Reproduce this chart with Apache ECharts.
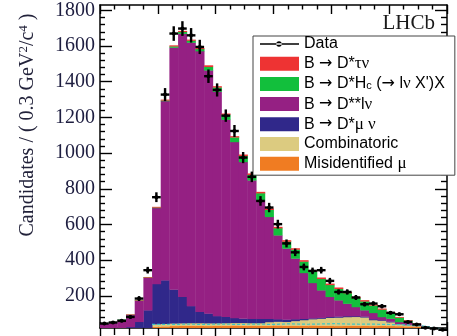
<!DOCTYPE html>
<html>
<head>
<meta charset="utf-8">
<script src="https://cdn.jsdelivr.net/npm/echarts@6/dist/echarts.min.js"></script>
<style>
  html, body { margin: 0; padding: 0; background: #fff; }
  #chart { width: 457px; height: 336px; }
</style>
</head>
<body>
<div id="chart"></div>
<script>
// Missing-mass-squared distribution: 40 bins of 0.3 GeV^2/c^4 from -2 to 10.
const BIN_LO = -2;
const BIN_WIDTH = 0.3;

// Observed candidates per bin
const dataCounts = [45, 51, 60, 82, 185, 344, 753, 1328, 1670, 1698,
  1660, 1595, 1431, 1354, 1210, 1124, 975, 867, 732, 695,
  602, 494, 444, 362, 340, 344, 284, 222, 222, 191,
  153, 157, 142, 105, 97, 54, 40, 22, 17, 10];

// Fit components, listed from the bottom of the stack upwards
const misIdMu = [0, 0, 0, 0, 0, 0, 28, 30, 32, 33,
  34, 33, 32, 33, 34, 35, 34, 33, 33, 34,
  35, 34, 33, 34, 35, 34, 33, 32, 33, 34,
  33, 32, 33, 32, 31, 30, 28, 20, 12, 8];
const combinatoric = [0, 0, 0, 0, 0, 0, 14, 14, 14, 14,
  14, 15, 15, 14, 14, 14, 15, 15, 15, 20,
  21, 21, 27, 31, 35, 39, 45, 47, 49, 49,
  47, 33, 29, 21, 11, 7, 4, 3, 3, 2];
const dstarMuNu = [12, 14, 18, 26, 55, 120, 225, 244, 190, 148,
  95, 64, 55, 40, 35, 28, 24, 24, 24, 18,
  14, 13, 10, 7, 5, 5, 5, 6, 5, 4,
  5, 5, 3, 4, 2, 3, 1, 1, 1, 1];
const dstarstarLNu = [32, 39, 49, 68, 118, 182, 426, 1004, 1356, 1475,
  1477, 1460, 1362, 1258, 1105, 986, 878, 776, 664, 571,
  470, 398, 340, 257, 198, 154, 112, 91, 70, 51,
  35, 35, 17, 16, 10, 10, 7, 1, 0, 0];
const dstarHc = [1, 1, 1, 1, 2, 2, 3, 4, 7, 10,
  11, 12, 20, 24, 28, 26, 34, 31, 40, 40,
  40, 39, 50, 64, 64, 64, 67, 64, 59, 51,
  50, 42, 42, 33, 25, 12, 3, 1, 1, 1];
const dstarTauNu = [0, 0, 0, 1, 1, 2, 3, 4, 5, 5,
  5, 5, 8, 6, 6, 6, 7, 7, 7, 7,
  7, 7, 7, 7, 7, 7, 7, 7, 6, 6,
  6, 5, 5, 4, 3, 2, 2, 1, 1, 1];
// Alternative mis-ID shape, drawn as a dashed outline
const misIdMuAlt = [null, null, null, null, null, null, 40, 41, 40, 42,
  41, 40, 41, 42, 41, 40, 41, 42, 41, 40,
  42, 43, 42, 41, 42, 43, 44, 43, 42, 41,
  42, 41, 40, 39, 38, 36, 33, 26, 18, 12];

// Axis ticks
const yTickValues = [200, 400, 600, 800, 1000, 1200, 1400, 1600, 1800];
const yMinorTicks = [];
for (let v = 40; v <= 1800; v += 40) if (v % 200 !== 0) yMinorTicks.push(v);

const legendNames = ['Data', 'B → D*τν', 'B → D*Hc (→ lν X′)X', 'B → D**lν',
  'B → D*μν', 'Combinatoric', 'Misidentified μ'];
const legendRich = {
  'B → D*τν': 'B {a|→} D*{g|τν}',
  'B → D*Hc (→ lν X′)X': 'B {a|→} D*H{sub|c} ({a|→} l{g|ν} X\')X',
  'B → D**lν': 'B {a|→} D**l{g|ν}',
  'B → D*μν': 'B {a|→} D*{g|μ ν}',
  'Misidentified μ': 'Misidentified {g|μ}'
};

// Stack layers, bottom first: [legend name, values, colour]
const layers = [
  ['Misidentified μ', misIdMu, '#F07C22'],
  ['Combinatoric', combinatoric, '#DCCB80'],
  ['B → D*μν', dstarMuNu, '#30288A'],
  ['B → D**lν', dstarstarLNu, '#952083'],
  ['B → D*Hc (→ lν X′)X', dstarHc, '#12BF3C'],
  ['B → D*τν', dstarTauNu, '#EE3333']
];

// Each bin of a layer becomes [lowEdge, highEdge, base, top] in data units
const running = dataCounts.map(() => 0);
const stackSeries = layers.map(([name, values, color]) => {
  const data = values.map((v, i) => {
    const base = running[i];
    running[i] += v;
    return [BIN_LO + i * BIN_WIDTH, BIN_LO + (i + 1) * BIN_WIDTH, base, running[i]];
  });
  return {
    name, type: 'custom', clip: true, silent: true, z: 2,
    itemStyle: { color },
    encode: { x: [0, 1], y: [2, 3] },
    data,
    renderItem: function (params, api) {
      const p0 = api.coord([api.value(0), api.value(3)]);
      const p1 = api.coord([api.value(1), api.value(2)]);
      const h = p1[1] - p0[1];
      if (h <= 0) return null;
      return {
        type: 'rect',
        shape: { x: p0[0], y: p0[1], width: p1[0] - p0[0] + 0.4, height: h + 0.3 },
        style: { fill: color }
      };
    }
  };
});

// Histogram step outline: one point per lower bin edge plus the closing edge
function stepPoints(values) {
  const pts = values.map((v, i) => [BIN_LO + i * BIN_WIDTH, v]);
  pts.push([BIN_LO + values.length * BIN_WIDTH, values[values.length - 1]]);
  return pts;
}

const FRAME = { color: '#000', width: 1.5 };
const TICK = { color: '#000', width: 1.4 };
const Y_MIN = 20, Y_MAX = 1830;

// Legend marker for the data: short line with a dot; corner specks pin the box to 39x14
const DATA_ICON = 'path://M0,0 L0.01,0 L0,0.01 Z M39,14 L38.99,14 L39,13.99 Z ' +
  'M0,6.35 L39,6.35 L39,7.65 L0,7.65 Z M16.3,7 A2.7,2.7 0 1,0 21.7,7 A2.7,2.7 0 1,0 16.3,7 Z';

const chart = echarts.init(document.getElementById('chart'), null, { renderer: 'canvas' });

const xCommon = {
  type: 'value', min: -2, max: 10, interval: 2,
  axisLabel: { show: false }, splitLine: { show: false }
};
const yCommon = {
  type: 'value', min: Y_MIN, max: Y_MAX,
  splitLine: { show: false }, axisLabel: { show: false }
};

chart.setOption({
  animation: false,
  grid: { left: 100, right: 10, top: 5, bottom: 8, containLabel: false },
  xAxis: [
    Object.assign({}, xCommon, {
      position: 'bottom',
      axisLine: { show: true, onZero: false, lineStyle: FRAME },
      axisTick: { show: true, inside: false, length: 8, lineStyle: TICK },
      minorTick: { show: true, splitNumber: 4, length: 7, lineStyle: TICK }
    }),
    Object.assign({}, xCommon, {
      position: 'top',
      axisLine: { show: true, onZero: false, lineStyle: FRAME },
      axisTick: { show: true, inside: true, length: 9, lineStyle: TICK },
      minorTick: { show: true, splitNumber: 4, length: 4.5, lineStyle: TICK }
    }),
    Object.assign({}, xCommon, {
      position: 'bottom',
      axisLine: { show: false, onZero: false },
      axisTick: { show: true, inside: true, length: 6, lineStyle: TICK }
    })
  ],
  yAxis: [
    Object.assign({}, yCommon, {
      position: 'left',
      axisLine: { show: true, onZero: false, lineStyle: FRAME },
      axisTick: { show: true, inside: true, length: 12, lineStyle: TICK, customValues: yTickValues },
      axisLabel: {
        show: true, customValues: yTickValues, margin: 5,
        formatter: v => String(v),
        fontFamily: 'Liberation Serif', fontSize: 20, color: '#1e1e40'
      }
    }),
    Object.assign({}, yCommon, {
      position: 'left',
      axisLine: { show: false, onZero: false },
      axisTick: { show: true, inside: true, length: 5, lineStyle: TICK, customValues: yMinorTicks }
    }),
    Object.assign({}, yCommon, {
      position: 'right',
      axisLine: { show: true, onZero: false, lineStyle: FRAME },
      axisTick: { show: true, inside: true, length: 12, lineStyle: TICK, customValues: yTickValues }
    }),
    Object.assign({}, yCommon, {
      position: 'right',
      axisLine: { show: false, onZero: false },
      axisTick: { show: true, inside: true, length: 6, lineStyle: TICK, customValues: yMinorTicks }
    })
  ],
  legend: {
    orient: 'vertical', left: 253, top: 36,
    itemWidth: 39, itemHeight: 14, itemGap: 3.2,
    padding: [0, 10, 3, 7],
    backgroundColor: '#fff', borderColor: '#444', borderWidth: 1,
    selectedMode: false, icon: 'rect',
    itemStyle: { borderWidth: 0 },
    textStyle: {
      fontFamily: 'Liberation Sans', fontSize: 16, color: '#000', lineHeight: 16,
      rich: {
        g: { fontFamily: 'Liberation Serif', fontSize: 17, lineHeight: 16, color: '#000' },
        a: { fontFamily: 'DejaVu Sans', fontSize: 16, lineHeight: 16, color: '#000' },
        sub: { fontFamily: 'Liberation Sans', fontSize: 11, lineHeight: 6, verticalAlign: 'bottom', color: '#000' }
      }
    },
    formatter: name => legendRich[name] || name,
    data: legendNames.map(name => name === 'Data'
      ? { name, icon: DATA_ICON, itemStyle: { color: '#000' } }
      : { name })
  },
  graphic: [
    {
      type: 'text', x: 28, y: 125, rotation: Math.PI / 2,
      style: {
        text: 'Candidates / ( 0.3 GeV{s|2}/c{s|4} )',
        fontFamily: 'Liberation Serif', fontSize: 20, fill: '#22223a',
        align: 'center', verticalAlign: 'middle', lineHeight: 22,
        rich: { s: { fontFamily: 'Liberation Serif', fontSize: 13, lineHeight: 22, verticalAlign: 'top', fill: '#22223a' } }
      }
    },
    {
      type: 'text', x: 435, y: 23, z: 10,
      style: {
        text: 'LHCb', fontFamily: 'Liberation Serif', fontSize: 21, fill: '#1a1a1a',
        align: 'right', verticalAlign: 'middle'
      }
    }
  ],
  series: stackSeries.concat([
    {
      name: 'misIdMuAlt', type: 'line', step: 'end',
      data: stepPoints(misIdMuAlt),
      symbol: 'none', showSymbol: false, silent: true, z: 3,
      lineStyle: { color: '#3CC8C8', width: 1.2, type: [3, 2] }
    },
    {
      name: 'Data', type: 'custom', z: 4, silent: true, clip: false,
      itemStyle: { color: '#000' },
      data: dataCounts.map((n, i) => [BIN_LO + (i + 0.5) * BIN_WIDTH, n]),
      renderItem: function (params, api) {
        const x = api.value(0), n = api.value(1);
        const err = Math.sqrt(n);
        const c = api.coord([x, n]);
        const l = api.coord([x - BIN_WIDTH / 2, n]);
        const r = api.coord([x + BIN_WIDTH / 2, n]);
        const t = api.coord([x, n + err]);
        const b = api.coord([x, n - err]);
        const s = { stroke: '#000', lineWidth: 2.4 };
        return {
          type: 'group',
          children: [
            { type: 'line', shape: { x1: l[0], y1: l[1], x2: r[0], y2: r[1] }, style: s },
            { type: 'line', shape: { x1: t[0], y1: t[1], x2: b[0], y2: b[1] }, style: s },
            { type: 'circle', shape: { cx: c[0], cy: c[1], r: 2 }, style: { fill: '#000' } }
          ]
        };
      }
    }
  ])
});
</script>
</body>
</html>
